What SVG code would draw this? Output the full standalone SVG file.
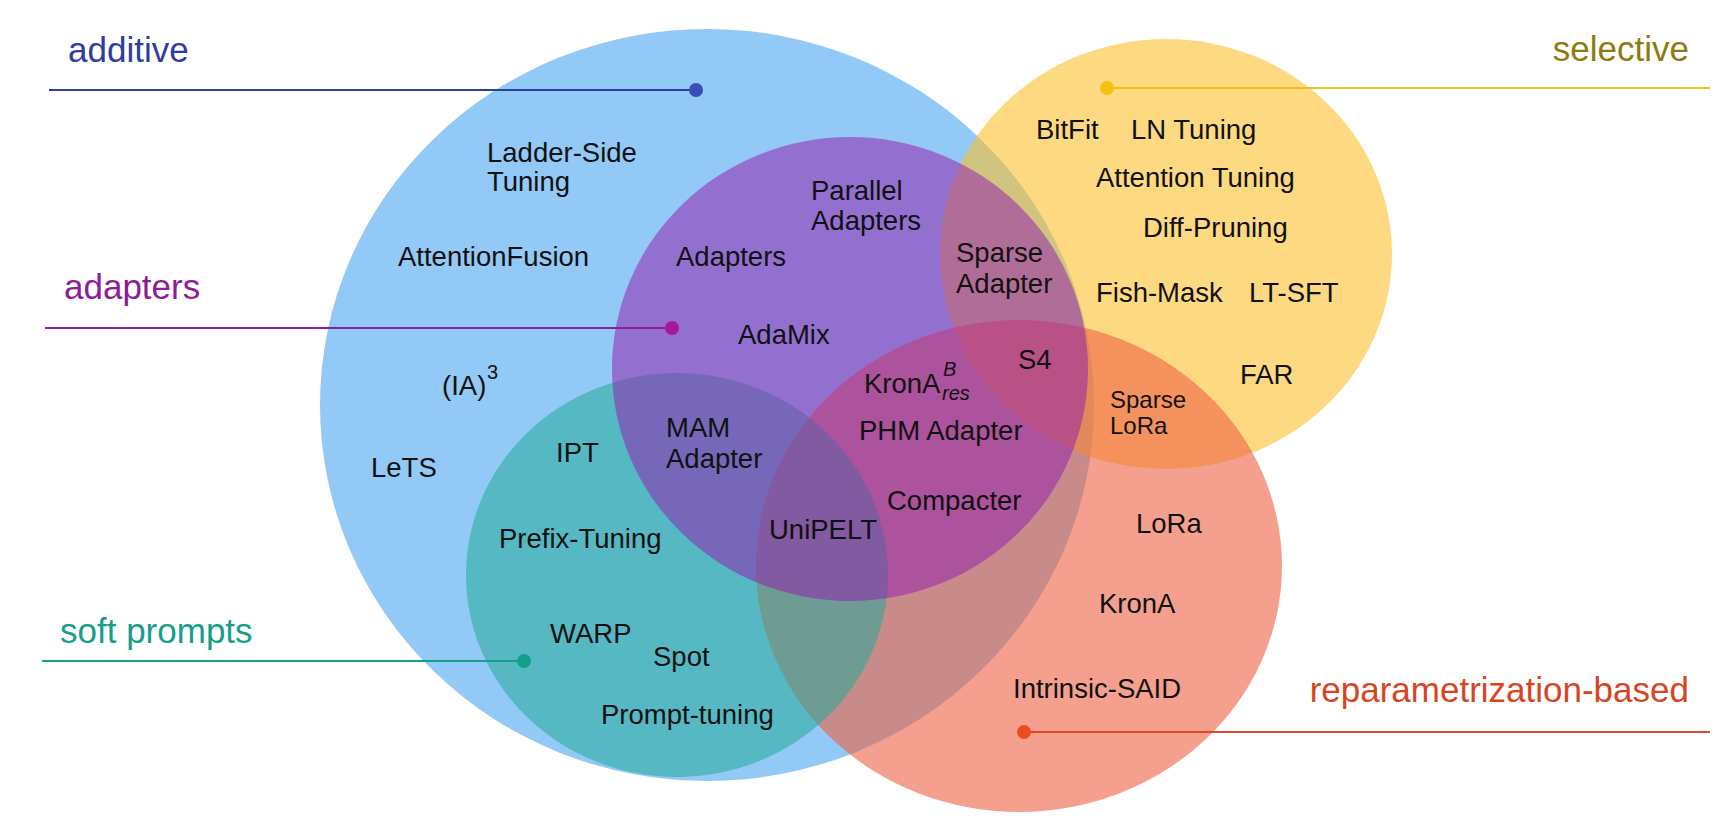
<svg xmlns="http://www.w3.org/2000/svg" width="1732" height="833" viewBox="0 0 1732 833">
<style>
  text { font-family: "Liberation Sans", Arial, Helvetica, sans-serif; }
  .m { font-size: 27.5px; fill: #111111; }
  .s { font-size: 24px; fill: #111111; }
  .sup { font-size: 20px; fill: #111111; }
  .it { font-size: 20px; font-style: italic; fill: #111111; }
  .cat { font-size: 35px; }
  .ln { stroke-width: 2; fill: none; }
</style>
<rect width="1732" height="833" fill="#ffffff"/>
<g id="sets">
  <g id="set-additive"><ellipse cx="707" cy="405" rx="387" ry="376" fill="#92C9F6"/></g>
  <g id="set-selective"><ellipse cx="1166" cy="254" rx="226" ry="215" fill="#FCC12F" fill-opacity="0.6"/></g>
  <g id="set-reparametrization"><ellipse cx="1019" cy="566" rx="263" ry="246" fill="#EE6143" fill-opacity="0.6"/></g>
  <g id="set-soft-prompts"><ellipse cx="677" cy="575" rx="211" ry="202" fill="#23AA99" fill-opacity="0.55"/></g>
  <g id="set-adapters"><ellipse cx="850" cy="369" rx="238" ry="232" fill="#9421AE" fill-opacity="0.53"/></g>
</g>
<g id="connectors">
  <line class="ln" x1="49" y1="90" x2="696" y2="90" stroke="#2F3E9E"/>
  <circle cx="696" cy="90" r="7" fill="#3A4CB8"/>
  <line class="ln" x1="45" y1="328" x2="672" y2="328" stroke="#8B1F9A"/>
  <circle cx="672" cy="328" r="7" fill="#A6179F"/>
  <line class="ln" x1="42" y1="661" x2="524" y2="661" stroke="#16A08A"/>
  <circle cx="524" cy="661" r="7" fill="#13A088"/>
  <line class="ln" x1="1107" y1="88" x2="1710" y2="88" stroke="#EEC21A"/>
  <circle cx="1107" cy="88" r="7" fill="#F4C10E"/>
  <line class="ln" x1="1024" y1="732" x2="1710" y2="732" stroke="#DC4A26"/>
  <circle cx="1024" cy="732" r="7" fill="#EE4A22"/>
</g>
<g id="category-labels">
  <g id="label-additive"><text class="cat" x="68" y="62" fill="#2E3D9F">additive</text></g>
  <g id="label-adapters"><text class="cat" x="64" y="299" fill="#8E1B98">adapters</text></g>
  <g id="label-soft-prompts"><text class="cat" x="60" y="643" fill="#179E8A">soft prompts</text></g>
  <g id="label-selective"><text class="cat" x="1689" y="61" text-anchor="end" fill="#8D7A10">selective</text></g>
  <g id="label-reparametrization"><text class="cat" x="1689" y="702" text-anchor="end" fill="#D9441F">reparametrization-based</text></g>
</g>
<g id="methods">
  <g id="m-ladder"><text class="m" x="487" y="162">Ladder-Side</text><text class="m" x="487" y="191">Tuning</text></g>
  <g id="m-attnfusion"><text class="m" x="398" y="266">AttentionFusion</text></g>
  <g id="m-ia3"><text class="m" x="442" y="395">(IA)</text><text class="sup" x="487" y="379">3</text></g>
  <g id="m-lets"><text class="m" x="371" y="477">LeTS</text></g>
  <g id="m-ipt"><text class="m" x="556" y="462">IPT</text></g>
  <g id="m-mam"><text class="m" x="666" y="437">MAM</text><text class="m" x="666" y="468">Adapter</text></g>
  <g id="m-prefix"><text class="m" x="499" y="548">Prefix-Tuning</text></g>
  <g id="m-unipelt"><text class="m" x="769" y="539">UniPELT</text></g>
  <g id="m-warp"><text class="m" x="550" y="643">WARP</text></g>
  <g id="m-spot"><text class="m" x="653" y="666">Spot</text></g>
  <g id="m-prompt"><text class="m" x="601" y="724">Prompt-tuning</text></g>
  <g id="m-adapters"><text class="m" x="676" y="266">Adapters</text></g>
  <g id="m-parallel"><text class="m" x="811" y="200">Parallel</text><text class="m" x="811" y="230">Adapters</text></g>
  <g id="m-adamix"><text class="m" x="738" y="344">AdaMix</text></g>
  <g id="m-krona-res"><text class="m" x="864" y="393">KronA</text><text class="it" x="943" y="376">B</text><text class="it" x="942" y="400">res</text></g>
  <g id="m-phm"><text class="m" x="859" y="440">PHM Adapter</text></g>
  <g id="m-compacter"><text class="m" x="887" y="510">Compacter</text></g>
  <g id="m-sparse-adapter"><text class="m" x="956" y="262">Sparse</text><text class="m" x="956" y="293">Adapter</text></g>
  <g id="m-s4"><text class="m" x="1018" y="369">S4</text></g>
  <g id="m-sparse-lora"><text class="s" x="1110" y="408">Sparse</text><text class="s" x="1110" y="434">LoRa</text></g>
  <g id="m-bitfit"><text class="m" x="1036" y="139">BitFit</text></g>
  <g id="m-ln"><text class="m" x="1131" y="139">LN Tuning</text></g>
  <g id="m-attn-tuning"><text class="m" x="1096" y="187">Attention Tuning</text></g>
  <g id="m-diff"><text class="m" x="1143" y="237">Diff-Pruning</text></g>
  <g id="m-fish"><text class="m" x="1096" y="302">Fish-Mask</text></g>
  <g id="m-ltsft"><text class="m" x="1249" y="302">LT-SFT</text></g>
  <g id="m-far"><text class="m" x="1240" y="384">FAR</text></g>
  <g id="m-lora"><text class="m" x="1136" y="533">LoRa</text></g>
  <g id="m-krona"><text class="m" x="1099" y="613">KronA</text></g>
  <g id="m-intrinsic"><text class="m" x="1013" y="698">Intrinsic-SAID</text></g>
</g>
</svg>
